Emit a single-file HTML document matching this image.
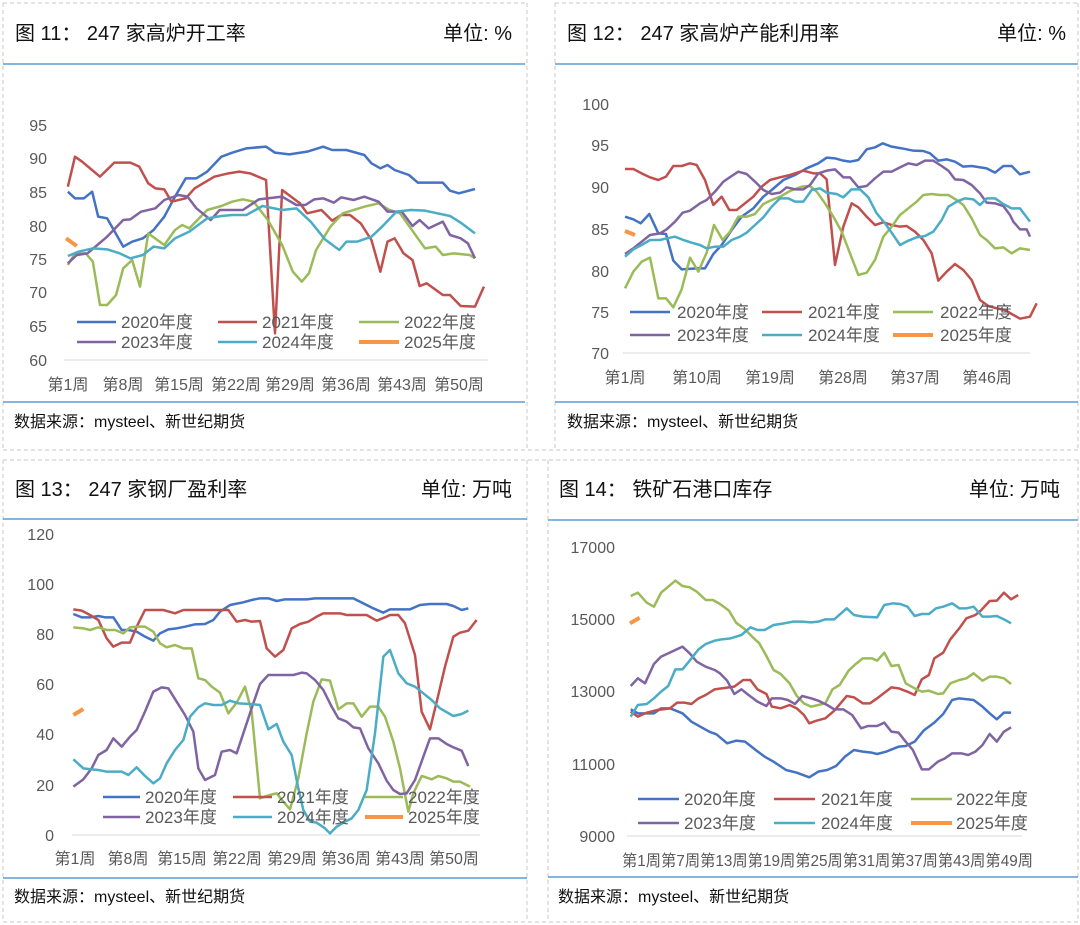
<!DOCTYPE html>
<html><head><meta charset="utf-8"><style>
html,body{margin:0;padding:0;background:#fff}
svg{display:block}
text{font-family:"Liberation Sans","Noto Sans CJK SC",sans-serif}
.t{font-size:20px;fill:#111}
.f{font-size:16px;fill:#111}
.a{font-size:16px;fill:#595959}
.l{font-size:17px;fill:#595959}
polyline{fill:none;stroke-width:2.5;stroke-linejoin:round;vector-effect:non-scaling-stroke}
.c0{stroke:#4472c4}.c1{stroke:#c0504d}.c2{stroke:#9bbb59}.c3{stroke:#8064a2}.c4{stroke:#4bacc6}.c5{stroke:#f79646;stroke-width:4}
.d{stroke:#c8c8c8;stroke-dasharray:4 3;stroke-width:1;fill:none}
.b{stroke:#5b9bd5;stroke-width:1.5}
.ax{stroke:#d9d9d9;stroke-width:1}
</style></head><body>
<svg width="1080" height="925" viewBox="0 0 1080 925" xmlns="http://www.w3.org/2000/svg">
<line class="d" x1="3" y1="3" x2="527" y2="3"/><line class="d" x1="555" y1="3" x2="1078" y2="3"/>
<line class="d" x1="3" y1="3" x2="3" y2="450"/><line class="d" x1="527" y1="3" x2="527" y2="450"/>
<line class="d" x1="555" y1="3" x2="555" y2="450"/><line class="d" x1="1078" y1="3" x2="1078" y2="450"/>
<line class="d" x1="3" y1="450" x2="1078" y2="450"/><line class="d" x1="3" y1="460" x2="1078" y2="460"/>
<line class="d" x1="3" y1="460" x2="3" y2="922"/><line class="d" x1="527" y1="460" x2="527" y2="922"/>
<line class="d" x1="548" y1="460" x2="548" y2="922"/><line class="d" x1="1078" y1="460" x2="1078" y2="922"/>
<line class="d" x1="3" y1="922" x2="1078" y2="922"/>
<line class="b" x1="3" y1="64" x2="525" y2="64"/><line class="b" x1="3" y1="402" x2="525" y2="402"/>
<line class="b" x1="555" y1="64" x2="1078" y2="64"/><line class="b" x1="555" y1="402" x2="1078" y2="402"/>
<line class="b" x1="3" y1="519" x2="527" y2="519"/><line class="b" x1="3" y1="878" x2="527" y2="878"/>
<line class="b" x1="548" y1="520" x2="1078" y2="520"/><line class="b" x1="548" y1="877" x2="1078" y2="877"/>
<text class="t" x="15" y="40">图 11：  247 家高炉开工率</text><text class="t" x="512" y="40" text-anchor="end">单位: %</text>
<text class="t" x="567" y="40">图 12：  247 家高炉产能利用率</text><text class="t" x="1066" y="40" text-anchor="end">单位: %</text>
<text class="t" x="15" y="496">图 13：  247 家钢厂盈利率</text><text class="t" x="512" y="496" text-anchor="end">单位: 万吨</text>
<text class="t" x="559" y="496">图 14：  铁矿石港口库存</text><text class="t" x="1060" y="496" text-anchor="end">单位: 万吨</text>
<text class="f" x="14" y="427">数据来源：mysteel、新世纪期货</text>
<text class="f" x="567" y="427">数据来源：mysteel、新世纪期货</text>
<text class="f" x="14" y="902">数据来源：mysteel、新世纪期货</text>
<text class="f" x="558" y="902">数据来源：mysteel、新世纪期货</text>

<line class="ax" x1="64" y1="360" x2="488" y2="360"/>
<g class="a" text-anchor="end">
<text x="47" y="131">95</text><text x="47" y="164">90</text><text x="47" y="198">85</text><text x="47" y="232">80</text><text x="47" y="265">75</text><text x="47" y="298">70</text><text x="47" y="332">65</text><text x="47" y="366">60</text></g>
<g class="a" text-anchor="middle">
<text x="68" y="390">第1周</text><text x="123" y="390">第8周</text><text x="179" y="390">第15周</text><text x="236" y="390">第22周</text><text x="290" y="390">第29周</text><text x="346" y="390">第36周</text><text x="402" y="390">第43周</text><text x="459" y="390">第50周</text></g>
<g transform="scale(0.35714,0.33333)">
<polyline class="c0" points="190,575 210,595 235,595 258,575 275,650 300,655 345,740 370,725 400,715 430,690 460,650 490,590 520,535 550,535 580,515 620,470 650,458 690,445 745,440 770,458 810,463 860,455 905,440 930,450 970,450 1020,465 1040,490 1065,505 1085,495 1105,510 1145,525 1170,548 1240,548 1260,572 1285,580 1330,567"/>
<polyline class="c1" points="190,560 210,470 230,485 280,530 320,488 365,488 390,500 415,550 435,565 460,568 480,605 520,595 545,565 600,530 640,520 670,515 700,520 745,540 770,1000 790,570 840,610 860,640 900,630 930,662 955,645 980,645 1010,670 1040,720 1065,815 1085,725 1105,715 1130,760 1155,780 1175,858 1195,850 1240,885 1260,885 1290,918 1330,920 1355,860"/>
<polyline class="c2" points="190,795 210,760 240,760 260,785 280,915 300,915 325,885 345,805 370,780 392,860 415,700 460,735 490,690 510,675 530,685 580,630 620,618 650,605 680,598 710,605 750,660 790,735 820,815 845,845 865,820 885,750 925,680 960,640 1020,620 1060,610 1090,630 1120,640 1160,700 1190,745 1220,740 1240,765 1270,760 1315,765 1330,775"/>
<polyline class="c3" points="190,790 215,765 245,760 300,710 345,660 365,658 395,635 435,625 460,600 500,585 525,590 550,625 590,660 615,630 680,630 725,598 790,590 830,615 855,615 880,598 905,595 935,608 955,592 990,600 1020,590 1060,605 1085,635 1125,635 1155,678 1175,660 1200,685 1240,665 1260,705 1290,715 1310,730 1330,775"/>
<polyline class="c4" points="190,768 220,755 260,745 300,748 335,760 365,775 400,765 430,740 460,745 490,715 530,695 580,655 620,648 650,645 690,645 735,618 790,630 830,625 870,665 910,718 950,750 970,725 1000,725 1040,710 1070,680 1110,635 1150,630 1190,632 1260,648 1290,668 1330,700"/>
<polyline class="c5" points="185,715 215,738"/>
</g>
<line class="c0" x1="77" y1="322" x2="116" y2="322" stroke-width="2.5"/><text class="l" x="121" y="328">2020年度</text>
<line class="c1" x1="218" y1="322" x2="257" y2="322" stroke-width="2.5"/><text class="l" x="262" y="328">2021年度</text>
<line class="c2" x1="359" y1="322" x2="399" y2="322" stroke-width="2.5"/><text class="l" x="404" y="328">2022年度</text>
<line class="c3" x1="77" y1="342" x2="116" y2="342" stroke-width="2.5"/><text class="l" x="121" y="348">2023年度</text>
<line class="c4" x1="218" y1="342" x2="257" y2="342" stroke-width="2.5"/><text class="l" x="262" y="348">2024年度</text>
<line class="c5" x1="359" y1="342" x2="399" y2="342" stroke-width="4"/><text class="l" x="404" y="348">2025年度</text>

<line class="ax" x1="623" y1="353" x2="1030" y2="353"/>
<g class="a" text-anchor="end">
<text x="609" y="110">100</text><text x="609" y="151">95</text><text x="609" y="193">90</text><text x="609" y="235">85</text><text x="609" y="277">80</text><text x="609" y="318">75</text><text x="609" y="359">70</text></g>
<g class="a" text-anchor="middle">
<text x="625" y="383">第1周</text><text x="697" y="383">第10周</text><text x="770" y="383">第19周</text><text x="843" y="383">第28周</text><text x="915" y="383">第37周</text><text x="987" y="383">第46周</text></g>
<g transform="translate(590,90) scale(0.33333)">
<polyline class="c0" points="105,380 130,388 152,400 178,372 205,430 228,432 250,512 275,538 320,535 345,535 370,492 395,465 425,420 455,380 490,355 520,320 545,300 580,270 615,255 650,235 685,220 710,203 735,205 760,212 780,215 805,210 830,178 855,172 878,160 905,170 935,175 970,182 1000,183 1020,190 1045,212 1070,208 1095,215 1120,230 1145,228 1190,235 1215,248 1240,228 1265,228 1290,253 1320,245"/>
<polyline class="c1" points="105,237 130,237 155,250 180,262 205,270 228,260 250,228 275,228 300,220 320,225 345,270 370,345 395,320 418,360 440,360 465,340 490,320 515,290 540,270 570,262 600,255 640,242 670,250 690,250 710,268 735,525 760,410 785,340 805,352 830,380 855,405 880,397 905,405 930,410 950,408 975,425 1000,450 1025,490 1045,572 1070,545 1095,522 1120,540 1145,570 1170,630 1195,648 1220,655 1245,660 1265,672 1290,686 1320,680 1340,640"/>
<polyline class="c2" points="105,595 130,545 155,515 180,503 205,625 228,625 250,652 275,598 300,503 325,545 350,488 372,405 398,450 420,425 445,380 470,380 495,372 520,342 545,330 570,320 600,303 635,290 660,288 680,305 705,340 730,380 755,425 780,490 805,555 830,548 855,510 880,440 905,410 930,375 955,355 980,335 1000,315 1025,312 1050,315 1075,315 1100,330 1120,345 1145,385 1170,435 1190,450 1215,475 1240,472 1265,490 1290,475 1320,480"/>
<polyline class="c3" points="105,492 130,475 155,455 180,435 210,430 230,418 255,395 278,368 300,362 330,340 350,330 375,305 400,275 425,258 445,245 470,252 495,275 520,300 545,312 570,308 590,292 615,298 640,298 660,285 685,250 710,242 735,238 760,262 780,262 805,292 830,288 855,265 880,245 905,245 930,232 955,220 980,225 1005,212 1030,212 1055,228 1075,242 1095,268 1120,270 1145,285 1170,310 1190,338 1215,340 1240,348 1260,375 1270,395 1290,418 1310,418 1320,440"/>
<polyline class="c4" points="105,500 130,478 155,465 180,450 210,450 230,445 255,440 280,450 305,458 330,465 350,475 375,470 400,470 425,450 450,440 470,428 495,405 520,382 545,350 570,325 595,325 615,335 640,335 665,300 690,295 710,308 740,312 760,322 785,298 810,298 835,322 860,370 885,400 905,428 930,465 955,452 980,442 1005,438 1030,425 1055,390 1075,350 1100,335 1125,325 1150,328 1170,345 1190,325 1215,325 1240,342 1265,355 1290,355 1320,395"/>
<polyline class="c5" points="105,423 135,435"/>
</g>
<line class="c0" x1="630" y1="312" x2="670" y2="312" stroke-width="2.5"/><text class="l" x="677" y="318">2020年度</text>
<line class="c1" x1="762" y1="312" x2="802" y2="312" stroke-width="2.5"/><text class="l" x="808" y="318">2021年度</text>
<line class="c2" x1="893" y1="312" x2="933" y2="312" stroke-width="2.5"/><text class="l" x="940" y="318">2022年度</text>
<line class="c3" x1="630" y1="335" x2="670" y2="335" stroke-width="2.5"/><text class="l" x="677" y="341">2023年度</text>
<line class="c4" x1="762" y1="335" x2="802" y2="335" stroke-width="2.5"/><text class="l" x="808" y="341">2024年度</text>
<line class="c5" x1="893" y1="335" x2="933" y2="335" stroke-width="4"/><text class="l" x="940" y="341">2025年度</text>

<line class="ax" x1="72" y1="835" x2="480" y2="835"/>
<g class="a" text-anchor="end">
<text x="54" y="540">120</text><text x="54" y="590">100</text><text x="54" y="640">80</text><text x="54" y="690">60</text><text x="54" y="740">40</text><text x="54" y="791">20</text><text x="54" y="841">0</text></g>
<g class="a" text-anchor="middle">
<text x="75" y="864">第1周</text><text x="128" y="864">第8周</text><text x="182" y="864">第15周</text><text x="237" y="864">第22周</text><text x="292" y="864">第29周</text><text x="346" y="864">第36周</text><text x="400" y="864">第43周</text><text x="454" y="864">第50周</text></g>
<g transform="translate(30,520) scale(0.33333)">
<polyline class="c0" points="130,282 155,292 180,292 205,288 225,292 250,292 275,330 295,330 320,335 345,350 370,362 390,340 415,328 440,325 465,320 495,313 525,312 550,300 570,275 600,255 640,247 665,240 690,235 715,235 740,243 765,238 800,238 830,238 855,235 900,235 945,235 970,235 1000,250 1030,265 1060,278 1080,268 1100,268 1140,268 1170,255 1200,252 1250,252 1270,258 1295,270 1315,265"/>
<polyline class="c1" points="130,268 155,272 180,285 205,300 230,355 250,380 275,368 300,368 320,320 345,270 380,270 400,270 435,280 460,270 490,270 520,270 560,270 595,270 620,305 645,300 665,305 690,303 710,385 735,410 760,390 785,325 810,312 835,305 860,290 880,280 905,280 930,280 950,285 975,285 1010,285 1040,302 1065,292 1080,285 1105,285 1125,310 1155,405 1175,575 1200,628 1225,525 1245,440 1270,350 1290,338 1315,332 1340,300"/>
<polyline class="c2" points="130,322 160,325 180,330 205,322 230,330 255,330 280,340 300,322 320,320 345,320 370,335 390,370 410,382 435,375 460,385 485,385 505,475 525,480 545,500 570,518 595,580 620,548 645,500 665,575 690,835 720,825 740,820 760,845 780,868 805,775 830,640 850,545 875,478 900,482 925,568 950,550 970,550 995,590 1020,560 1045,560 1065,590 1090,665 1110,745 1135,875 1150,820 1175,768 1205,778 1225,768 1250,775 1270,785 1290,785 1320,800"/>
<polyline class="c3" points="130,800 160,778 185,745 205,705 230,690 250,655 275,680 300,650 320,630 345,575 370,515 395,502 415,505 440,545 465,585 490,635 505,745 525,780 555,765 575,695 600,690 620,700 645,625 670,550 690,492 715,465 740,465 765,465 790,465 815,458 830,460 855,480 880,510 905,560 925,595 950,605 970,622 990,625 1015,685 1045,730 1070,782 1090,810 1110,822 1130,820 1155,780 1180,710 1200,655 1225,655 1250,672 1270,682 1295,692 1315,738"/>
<polyline class="c4" points="130,718 160,745 185,748 205,750 230,755 255,755 275,755 295,765 320,742 345,768 370,790 390,775 410,730 435,690 460,660 480,590 505,562 525,550 550,555 575,555 600,542 625,550 660,552 690,555 715,628 740,612 760,665 785,705 805,805 820,870 840,905 860,908 885,925 900,940 920,920 945,905 965,895 985,870 1010,810 1035,640 1060,410 1080,390 1105,460 1130,490 1155,500 1180,520 1205,540 1230,565 1270,588 1295,582 1315,572"/>
<polyline class="c5" points="130,585 160,567"/>
</g>
<line class="c0" x1="103" y1="797" x2="140" y2="797" stroke-width="2.5"/><text class="l" x="145" y="803">2020年度</text>
<line class="c1" x1="233" y1="797" x2="272" y2="797" stroke-width="2.5"/><text class="l" x="277" y="803">2021年度</text>
<line class="c2" x1="365" y1="797" x2="403" y2="797" stroke-width="2.5"/><text class="l" x="408" y="803">2022年度</text>
<line class="c3" x1="103" y1="817" x2="140" y2="817" stroke-width="2.5"/><text class="l" x="145" y="823">2023年度</text>
<line class="c4" x1="233" y1="817" x2="272" y2="817" stroke-width="2.5"/><text class="l" x="277" y="823">2024年度</text>
<line class="c5" x1="365" y1="817" x2="403" y2="817" stroke-width="4"/><text class="l" x="408" y="823">2025年度</text>

<line class="ax" x1="627" y1="836" x2="1022" y2="836"/>
<g class="a" text-anchor="end">
<text x="615" y="553">17000</text><text x="615" y="625">15000</text><text x="615" y="697">13000</text><text x="615" y="770">11000</text><text x="615" y="842">9000</text></g>
<text class="a" x="622" y="866" textLength="411" lengthAdjust="spacingAndGlyphs">第1周第7周第13周第19周第25周第31周第37周第43周第49周</text>
<g transform="translate(520,440) scale(0.35714,0.33333)">
<polyline class="c0" points="310,808 330,820 375,820 395,805 420,805 455,820 480,845 505,860 530,875 550,883 580,910 605,902 630,905 660,930 685,950 710,965 745,990 775,998 810,1012 835,995 860,990 885,978 910,950 935,930 960,935 985,938 1000,942 1025,935 1060,920 1080,918 1105,905 1130,872 1160,848 1185,822 1210,780 1230,775 1270,780 1295,800 1315,820 1335,838 1355,818 1375,818"/>
<polyline class="c1" points="310,815 330,830 355,818 385,810 420,805 440,788 460,788 480,792 500,775 520,765 545,748 600,740 625,720 645,720 665,748 690,762 705,800 730,805 755,795 775,805 795,825 810,850 830,842 855,835 880,812 915,768 935,772 960,790 980,790 1000,775 1040,742 1060,745 1085,755 1105,765 1125,718 1145,705 1160,655 1185,638 1205,598 1230,565 1250,535 1275,525 1290,512 1315,483 1335,482 1355,458 1375,478 1395,465"/>
<polyline class="c2" points="310,468 330,458 355,488 375,500 395,458 415,440 435,422 455,438 475,442 495,455 520,480 540,480 560,492 585,512 605,548 630,568 650,590 670,610 690,648 710,690 730,702 755,730 775,768 795,790 815,800 835,795 855,790 875,748 895,735 920,692 940,672 960,655 985,655 1000,662 1020,638 1040,678 1060,675 1080,730 1105,745 1125,755 1145,752 1170,762 1185,760 1205,730 1230,720 1250,715 1270,700 1295,722 1315,710 1335,710 1355,715 1375,732"/>
<polyline class="c3" points="310,738 330,715 350,730 375,672 395,650 415,640 435,630 455,620 475,640 495,665 520,680 545,690 560,700 580,722 600,762 620,748 640,765 665,785 690,798 705,775 730,775 750,780 770,792 790,768 815,775 835,782 860,795 880,808 905,808 930,825 955,865 975,858 1000,858 1020,848 1040,875 1060,878 1080,905 1100,930 1125,988 1145,988 1170,965 1190,955 1210,940 1235,940 1255,945 1275,935 1295,915 1315,882 1335,905 1355,875 1375,862"/>
<polyline class="c4" points="310,830 330,795 355,792 375,775 395,755 415,738 435,688 455,688 475,662 500,628 520,612 545,602 565,598 590,595 620,585 645,562 665,570 685,570 710,555 740,550 765,545 790,545 815,547 835,545 855,538 880,538 915,505 935,525 960,530 1000,532 1020,495 1045,490 1065,492 1085,500 1105,528 1125,522 1145,522 1165,505 1185,500 1210,490 1230,505 1250,505 1270,500 1295,530 1315,530 1335,528 1355,538 1375,550"/>
<polyline class="c5" points="308,550 335,533"/>
</g>
<line class="c0" x1="638" y1="799" x2="679" y2="799" stroke-width="2.5"/><text class="l" x="684" y="805">2020年度</text>
<line class="c1" x1="774" y1="799" x2="815" y2="799" stroke-width="2.5"/><text class="l" x="821" y="805">2021年度</text>
<line class="c2" x1="911" y1="799" x2="952" y2="799" stroke-width="2.5"/><text class="l" x="956" y="805">2022年度</text>
<line class="c3" x1="638" y1="823" x2="679" y2="823" stroke-width="2.5"/><text class="l" x="684" y="829">2023年度</text>
<line class="c4" x1="774" y1="823" x2="815" y2="823" stroke-width="2.5"/><text class="l" x="821" y="829">2024年度</text>
<line class="c5" x1="911" y1="823" x2="952" y2="823" stroke-width="4"/><text class="l" x="956" y="829">2025年度</text>
</svg>
</body></html>
